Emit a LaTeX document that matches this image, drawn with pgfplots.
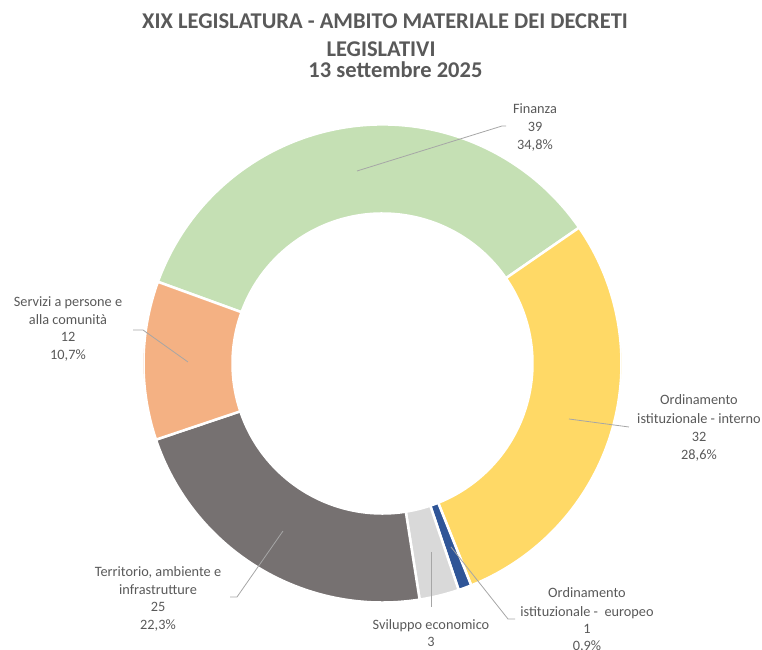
\documentclass[border=0pt]{standalone}
\usepackage{pgfplots}
\pgfplotsset{compat=1.18}
\usepackage{pgfplotstable}
\usepackage{fontspec}
\setmainfont{Carlito}
\definecolor{slice0}{HTML}{C5E0B4}
\definecolor{slice1}{HTML}{FFD966}
\definecolor{slice2}{HTML}{2F5597}
\definecolor{slice3}{HTML}{D9D9D9}
\definecolor{slice4}{HTML}{767171}
\definecolor{slice5}{HTML}{F4B183}
\definecolor{txt}{HTML}{595959}
\definecolor{leader}{HTML}{A6A6A6}

\pgfplotstableread[col sep=semicolon]{
label;value
Finanza;39
Ordinamento istituzionale - interno;32
Ordinamento istituzionale - europeo;1
Sviluppo economico;3
Territorio ambiente e infrastrutture;25
Servizi a persone e alla comunità;12
}\donutdata

\begin{document}
\begin{tikzpicture}
\path[use as bounding box] (0,0) rectangle (762bp,650bp);
\pgfplotstablegetrowsof{\donutdata}
\pgfmathtruncatemacro\nlast{\pgfplotsretval-1}
\def\total{0}
\pgfplotsforeachungrouped \i in {0,...,\nlast}{%
  \pgfplotstablegetelem{\i}{value}\of\donutdata
  \pgfmathsetmacro\total{\total+\pgfplotsretval}}
\def\cur{160}
\pgfplotsforeachungrouped \i in {0,...,\nlast}{%
  \pgfplotstablegetelem{\i}{value}\of\donutdata
  \expandafter\xdef\csname sa\i\endcsname{\cur}%
  \pgfmathsetmacro\cur{\cur-\pgfplotsretval/\total*360}%
  \expandafter\xdef\csname ea\i\endcsname{\cur}}

\begin{axis}[hide axis, scale only axis, width=478bp, height=478bp,
  xmin=-1, xmax=1, ymin=-1, ymax=1,
  at={(382.5bp,286.5bp)}, anchor=center]
\pgfplotsinvokeforeach{0,...,5}{%
  \fill[slice#1, draw=white, line width=2.5bp]
    (axis cs:0,0) ++(\csname sa#1\endcsname:239bp)
    arc[start angle=\csname sa#1\endcsname, end angle=\csname ea#1\endcsname, radius=239bp]
    -- ++({\csname ea#1\endcsname+180}:89bp)
    arc[start angle=\csname ea#1\endcsname, end angle=\csname sa#1\endcsname, radius=150bp]
    -- cycle;
}
\end{axis}

\begin{scope}[x=1bp, y=-1bp, yshift=650bp,
  every node/.style={font=\fontsize{14.3bp}{17bp}\selectfont, text=txt, anchor=base, inner sep=0pt}]
% title
\node[font=\fontsize{22.5bp}{26bp}\selectfont\bfseries] at (385,29) {XIX LEGISLATURA - AMBITO MATERIALE DEI DECRETI};
\node[font=\fontsize{22.5bp}{26bp}\selectfont\bfseries] at (381,56.5) {LEGISLATIVI};
\node[font=\fontsize{22.5bp}{26bp}\selectfont\bfseries] at (395.5,77.5) {13 settembre 2025};
% leader lines
\draw[leader, line width=0.8bp] (357,171) -- (502,126) -- (506,126);
\draw[leader, line width=0.8bp] (569,419) -- (629,427);
\draw[leader, line width=0.8bp] (451,547) -- (508,619) -- (515,619);
\draw[leader, line width=0.8bp] (431,552) -- (431,607);
\draw[leader, line width=0.8bp] (283,531) -- (237,597) -- (230,597);
\draw[leader, line width=0.8bp] (188,362) -- (143,330) -- (133,330);
% labels
\node at (535,113.5) {Finanza};
\node at (535,131.7) {39};
\node at (535,150) {34,8\%};
\node at (699,405) {Ordinamento};
\node at (699,423.3) {istituzionale - interno};
\node at (699,441.5) {32};
\node at (699,459.5) {28,6\%};
\node at (587,598) {Ordinamento};
\node at (587,616.5) {istituzionale -\ \ europeo};
\node at (587,634) {1};
\node at (587,651) {0,9\%};
\node at (431,629.3) {Sviluppo economico};
\node at (431,646.7) {3};
\node at (158,576.7) {Territorio, ambiente e};
\node at (158,594.3) {infrastrutture};
\node at (158,611.7) {25};
\node at (158,629.3) {22,3\%};
\node at (68,306.7) {Servizi a persone e};
\node at (68,324.3) {alla comunità};
\node at (68,341.7) {12};
\node at (68,359.3) {10,7\%};
\end{scope}
\end{tikzpicture}
\end{document}
